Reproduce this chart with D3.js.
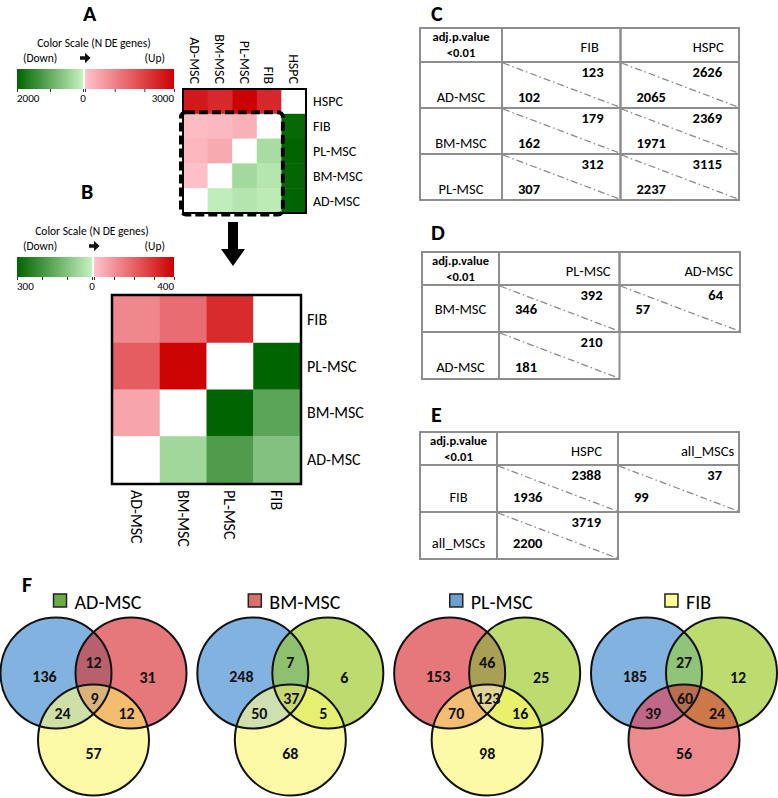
<!DOCTYPE html>
<html>
<head>
<meta charset="utf-8">
<script src="https://cdn.jsdelivr.net/npm/d3@7"></script>
<style>
  body { margin: 0; background: #fff; }
  svg { display: block; font-family: Carlito, Lato, sans-serif; }
</style>
</head>
<body>
<svg width="778" height="798"></svg>
<script>
// ---------- data ----------
// heatmap A (columns / rows), positive = up (red), negative = down (green)
const groupsA = ["AD-MSC", "BM-MSC", "PL-MSC", "FIB", "HSPC"];
const rowsA = ["HSPC", "FIB", "PL-MSC", "BM-MSC", "AD-MSC"];
const heatA = [
  [2626, 2369, 3115, 2388, null],
  [123, 179, 312, null, -1936],
  [210, 392, null, -307, -2237],
  [64, null, -346, -162, -1971],
  [null, -57, -181, -102, -2065]
];
// heatmap B is the MSC/FIB block of A
const groupsB = ["AD-MSC", "BM-MSC", "PL-MSC", "FIB"];
const rowsB = ["FIB", "PL-MSC", "BM-MSC", "AD-MSC"];
const heatB = rowsB.map(r => groupsB.map(c => heatA[rowsA.indexOf(r)][groupsA.indexOf(c)]));

const downMaxA = 2000, upMaxA = 3000;
const downMaxB = 300, upMaxB = 400;

// tables: up = upper right number, down = lower left number
const tableCRows = ["AD-MSC", "BM-MSC", "PL-MSC"];
const tableCCols = ["FIB", "HSPC"];
const tableCUp = [[123, 2626], [179, 2369], [312, 3115]];
const tableCDown = [[102, 2065], [162, 1971], [307, 2237]];

const tableDRows = ["BM-MSC", "AD-MSC"];
const tableDCols = ["PL-MSC", "AD-MSC"];
const tableDUp = [[392, 64], [210, null]];
const tableDDown = [[346, 57], [181, null]];

const tableERows = ["FIB", "all_MSCs"];
const tableECols = ["HSPC", "all_MSCs"];
const tableEUp = [[2388, 37], [3719, null]];
const tableEDown = [[1936, 99], [2200, null]];

// venn diagrams: counts are [A only, B only, C only, AB, AC, BC, ABC]
const vennTitles = ["AD-MSC", "BM-MSC", "PL-MSC", "FIB"];
const vennCounts = [
  [136, 31, 57, 12, 24, 12, 9],
  [248, 6, 68, 7, 50, 5, 37],
  [153, 25, 98, 46, 70, 16, 123],
  [185, 12, 56, 27, 39, 24, 60]
];

// ---------- colours ----------
const greenLo = "#c6f2bf", greenHi = "#006400";
const redLo = "#ffc4cc", redHi = "#cc0000";
const cBlue = "#82b3e0", cRed = "#e6777a", cYellow = "#fcfaa6", cGreen = "#bddb6e", cPink = "#ec8a8e";
const legendColors = ["#6aab48", "#d9706e", "#6f9fd0", "#ffff99"];
// fills: [A, B, C, AB, AC, BC, ABC]
const vennFills = [
  [cBlue, cRed, cYellow, "#b8606c", "#cfe0a6", "#f3bc6e", "#dab27c"],
  [cBlue, cGreen, cYellow, "#8fc070", "#cfdfae", "#e5ef70", "#c8d870"],
  [cRed, cGreen, cYellow, "#a9a055", "#f3bd74", "#e8f06c", "#e0d596"],
  [cBlue, cGreen, cPink, "#90c478", "#c06888", "#cc7848", "#b86e4e"]
];

const svg = d3.select("svg");
const defs = svg.append("defs");

function panelLabel(t, x, y) {
  svg.append("text").attr("x", x).attr("y", y)
    .attr("font-size", 22).attr("font-weight", "bold").text(t);
}

// ---------- colour bars ----------
function colorBar(id, y0, titleX, downMax, upMax, gx0, gx1, rx0, rx1, step) {
  const gs = d3.scaleLinear().domain([downMax, 0]).range([gx0, gx1]);
  const rs = d3.scaleLinear().domain([0, upMax]).range([rx0, rx1]);
  const gc = d3.scaleLinear().domain([0, downMax]).range([greenLo, greenHi]);
  const rc = d3.scaleLinear().domain([0, upMax]).range([redLo, redHi]);

  const gg = defs.append("linearGradient").attr("id", id + "g");
  gg.append("stop").attr("offset", "0%").attr("stop-color", gc(downMax));
  gg.append("stop").attr("offset", "100%").attr("stop-color", gc(0));
  const rg = defs.append("linearGradient").attr("id", id + "r");
  rg.append("stop").attr("offset", "0%").attr("stop-color", rc(0));
  rg.append("stop").attr("offset", "100%").attr("stop-color", rc(upMax));

  svg.append("rect").attr("x", gx0).attr("y", y0).attr("width", gx1 - gx0).attr("height", 20)
    .attr("fill", `url(#${id}g)`);
  svg.append("rect").attr("x", rx0).attr("y", y0).attr("width", rx1 - rx0).attr("height", 20)
    .attr("fill", `url(#${id}r)`);

  [[gs, downMax], [rs, upMax]].forEach(([s, m]) => {
    const ax = svg.append("g").attr("transform", `translate(0,${y0 + 20})`)
      .call(d3.axisBottom(s).tickValues(d3.range(0, m + 1, step)).tickSize(3).tickFormat(""));
    ax.select(".domain").remove();
    ax.selectAll("line").attr("stroke", "#333");
  });

  svg.append("text").attr("x", titleX).attr("y", y0 - 22).attr("text-anchor", "middle")
    .attr("font-size", 11.5).text("Color Scale (N DE genes)");
  svg.append("text").attr("x", gx0 + 6).attr("y", y0 - 7).attr("font-size", 11.5).text("(Down)");
  svg.append("text").attr("x", rx1 - 9).attr("y", y0 - 7).attr("text-anchor", "end")
    .attr("font-size", 11.5).text("(Up)");
  const ax0 = gx1 - 3, ay = y0 - 11;
  svg.append("path")
    .attr("d", `M${ax0},${ay - 1.8}h5v-3.5l5.5,5.3l-5.5,5.3v-3.5h-5z`)
    .attr("fill", "#111");

  svg.append("text").attr("x", gx0).attr("y", y0 + 33).attr("font-size", 11).text(downMax);
  svg.append("text").attr("x", gs(0)).attr("y", y0 + 33).attr("text-anchor", "middle")
    .attr("font-size", 11).text(0);
  svg.append("text").attr("x", rx1).attr("y", y0 + 33).attr("text-anchor", "end")
    .attr("font-size", 11).text(upMax);
}

// ---------- heatmaps ----------
function heatmap(groups, rows, values, x0, y0, w, h, upMax, downMax) {
  const x = d3.scaleBand().domain(groups).range([x0, x0 + w]);
  const y = d3.scaleBand().domain(rows).range([y0, y0 + h]);
  const up = d3.scaleLinear().domain([0, upMax]).range([redLo, redHi]).clamp(true);
  const dn = d3.scaleLinear().domain([0, downMax]).range([greenLo, greenHi]).clamp(true);
  const cells = [];
  rows.forEach((r, i) => groups.forEach((c, j) => cells.push({ r, c, v: values[i][j] })));
  svg.append("g").selectAll("rect").data(cells).join("rect")
    .attr("x", d => x(d.c)).attr("y", d => y(d.r))
    .attr("width", x.bandwidth() + 0.4).attr("height", y.bandwidth() + 0.4)
    .attr("fill", d => d.v == null ? "#fff" : d.v > 0 ? up(d.v) : dn(-d.v));
  return { x, y };
}

// panel A
panelLabel("A", 83, 21);
colorBar("cbA", 69, 94, downMaxA, upMaxA, 17, 83, 85, 174, 1000);
const hA = heatmap(groupsA, rowsA, heatA, 183, 89, 123, 124, upMaxA, downMaxA);
svg.append("rect").attr("x", 183).attr("y", 89).attr("width", 123).attr("height", 124)
  .attr("fill", "none").attr("stroke", "#000").attr("stroke-width", 2);
svg.append("g").selectAll("text").data(groupsA).join("text")
  .attr("transform", d => `translate(${hA.x(d) + hA.x.bandwidth() / 2},84) rotate(90)`)
  .attr("text-anchor", "end").attr("dy", "0.35em").attr("font-size", 14).text(d => d);
svg.append("g").selectAll("text").data(rowsA).join("text")
  .attr("x", 313).attr("y", d => hA.y(d) + hA.y.bandwidth() / 2)
  .attr("dy", "0.35em").attr("font-size", 14).text(d => d);
// dashed frame around the MSC / FIB block
svg.append("rect")
  .attr("x", hA.x("AD-MSC") - 2).attr("y", hA.y("FIB") - 1.5)
  .attr("width", hA.x.bandwidth() * 4 + 3.5).attr("height", hA.y.bandwidth() * 4 + 3)
  .attr("rx", 5).attr("fill", "none").attr("stroke", "#000")
  .attr("stroke-width", 4).attr("stroke-dasharray", "9,4");

// big arrow
svg.append("path").attr("d", "M228,222h10v27h7l-12,17l-12,-17h7z").attr("fill", "#000");

// panel B
panelLabel("B", 81, 199);
colorBar("cbB", 257, 92, downMaxB, upMaxB, 17, 92, 94, 174, 100);
const hB = heatmap(groupsB, rowsB, heatB, 113, 296, 187, 187, upMaxB, downMaxB);
svg.append("rect").attr("x", 112).attr("y", 295).attr("width", 189).attr("height", 189)
  .attr("fill", "none").attr("stroke", "#000").attr("stroke-width", 2.5);
svg.append("g").selectAll("text").data(groupsB).join("text")
  .attr("transform", d => `translate(${hB.x(d) + hB.x.bandwidth() / 2},490) rotate(90)`)
  .attr("dy", "0.35em").attr("font-size", 16).text(d => d);
svg.append("g").selectAll("text").data(rowsB).join("text")
  .attr("x", 307).attr("y", d => hB.y(d) + hB.y.bandwidth() / 2)
  .attr("dy", "0.35em").attr("font-size", 16).text(d => d);

// ---------- tables ----------
function drawTable(rows, cols, up, down, x0, y0, hw, dw, hh, rh, lowFrac) {
  const g = svg.append("g");
  const x = d3.scaleBand().domain(cols).range([x0 + hw, x0 + hw + dw * cols.length]);
  const y = d3.scaleBand().domain(rows).range([y0 + hh, y0 + hh + rh * rows.length]);
  const line = "#8e8e8e";
  const cell = (cx, cy, w, h) => g.append("rect").attr("x", cx).attr("y", cy)
    .attr("width", w).attr("height", h).attr("fill", "none")
    .attr("stroke", line).attr("stroke-width", 2);

  // header
  cell(x0, y0, hw, hh);
  g.append("text").attr("x", x0 + hw / 2).attr("y", y0 + 13).attr("text-anchor", "middle")
    .attr("font-size", 12.5).attr("font-weight", "bold").text("adj.p.value");
  g.append("text").attr("x", x0 + hw / 2).attr("y", y0 + 29).attr("text-anchor", "middle")
    .attr("font-size", 12.5).attr("font-weight", "bold").text("<0.01");
  cols.forEach(c => {
    cell(x(c), y0, x.bandwidth(), hh);
    g.append("text").attr("x", x(c) + x.bandwidth() * 0.74).attr("y", y0 + hh * 0.72)
      .attr("text-anchor", "middle").attr("font-size", 14.5).text(c);
  });

  rows.forEach((r, i) => {
    cell(x0, y(r), hw, y.bandwidth());
    g.append("text").attr("x", x0 + hw / 2).attr("y", y(r) + y.bandwidth() * lowFrac[i])
      .attr("dy", "0.35em").attr("text-anchor", "middle").attr("font-size", 14.5).text(r);
    cols.forEach((c, j) => {
      if (up[i][j] == null) return;
      const cx = x(c), cy = y(r), w = x.bandwidth(), h = y.bandwidth();
      cell(cx, cy, w, h);
      g.append("line").attr("x1", cx + 1).attr("y1", cy + 1).attr("x2", cx + w - 1).attr("y2", cy + h - 1)
        .attr("stroke", "#8a8a8a").attr("stroke-width", 1.3).attr("stroke-dasharray", "7,3,1.5,3");
      g.append("text").attr("x", cx + w - 17).attr("y", cy + 10).attr("dy", "0.35em")
        .attr("text-anchor", "end").attr("font-size", 14.5).attr("font-weight", "bold").text(up[i][j]);
      g.append("text").attr("x", cx + 16).attr("y", cy + h * lowFrac[i]).attr("dy", "0.35em")
        .attr("font-size", 14.5).attr("font-weight", "bold").text(down[i][j]);
    });
  });
}

panelLabel("C", 431, 21);
drawTable(tableCRows, tableCCols, tableCUp, tableCDown, 420, 28, 82, 118.5, 34, 46, [0.76, 0.76, 0.76]);
panelLabel("D", 431, 240);
drawTable(tableDRows, tableDCols, tableDUp, tableDDown, 422, 252, 77, 120.5, 33, 47, [0.5, 0.74]);
panelLabel("E", 431, 422);
drawTable(tableERows, tableECols, tableEUp, tableEDown, 420, 432, 77, 121, 33, 47, [0.68, 0.66]);

// ---------- venn diagrams ----------
panelLabel("F", 22, 592);
const vennMid = d3.scalePoint().domain(vennTitles).range([93.5, 684]);
const vr = 55.5, vdx = 37.5, vTop = 673, vBot = 740;
// label offsets from (mid, top row) for [A, B, C, AB, AC, BC, ABC]
const vLab = [[-49, 3], [54, 4], [0, 80], [0, -11], [-31, 40], [33, 40], [1, 25]];

vennTitles.forEach((t, i) => {
  const mx = vennMid(t);
  const cs = [[mx - vdx, vTop], [mx + vdx, vTop], [mx, vBot]];
  const f = vennFills[i];
  const g = svg.append("g");
  ["a", "b"].forEach((k, j) => {
    defs.append("clipPath").attr("id", `v${i}${k}`)
      .append("circle").attr("cx", cs[j][0]).attr("cy", cs[j][1]).attr("r", vr);
  });
  const circ = (p, c, fill) => p.append("circle").attr("cx", c[0]).attr("cy", c[1]).attr("r", vr).attr("fill", fill);
  circ(g, cs[0], f[0]);
  circ(g, cs[1], f[1]);
  circ(g, cs[2], f[2]);
  circ(g.append("g").attr("clip-path", `url(#v${i}a)`), cs[1], f[3]);
  circ(g.append("g").attr("clip-path", `url(#v${i}a)`), cs[2], f[4]);
  circ(g.append("g").attr("clip-path", `url(#v${i}b)`), cs[2], f[5]);
  circ(g.append("g").attr("clip-path", `url(#v${i}a)`).append("g").attr("clip-path", `url(#v${i}b)`), cs[2], f[6]);
  cs.forEach(c => g.append("circle").attr("cx", c[0]).attr("cy", c[1]).attr("r", vr)
    .attr("fill", "none").attr("stroke", "#111").attr("stroke-width", 2));

  g.selectAll("text.n").data(vennCounts[i]).join("text").attr("class", "n")
    .attr("x", (d, k) => mx + vLab[k][0]).attr("y", (d, k) => vTop + vLab[k][1])
    .attr("dy", "0.35em").attr("text-anchor", "middle")
    .attr("font-size", 16).attr("font-weight", "bold").attr("fill", "#111").text(d => d);

  // legend title
  const lg = svg.append("g");
  const lt = lg.append("text").attr("x", 21).attr("y", 609).attr("font-size", 20).text(t);
  lg.append("rect").attr("x", 0).attr("y", 594).attr("width", 13).attr("height", 13)
    .attr("fill", legendColors[i]).attr("stroke", "#222").attr("stroke-width", 1.5);
  const w = 21 + lt.node().getComputedTextLength();
  lg.attr("transform", `translate(${mx + 4 - w / 2},0)`);
});
</script>
</body>
</html>
